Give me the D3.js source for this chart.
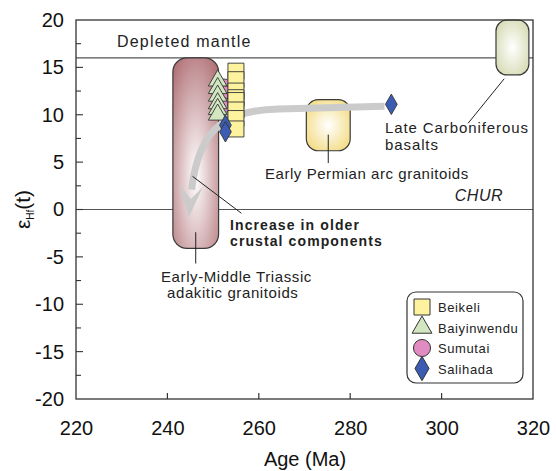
<!DOCTYPE html>
<html><head><meta charset="utf-8">
<script src="https://cdn.jsdelivr.net/npm/d3@7"></script>
<style>body{margin:0;background:#fff}text{font-family:"Liberation Sans",Arial,sans-serif}</style>
</head><body>
<svg id="c" width="556" height="471"></svg>
<script>
// ---- data ----
const xTicks = [220, 240, 260, 280, 300, 320];
const yTicks = [-20, -15, -10, -5, 0, 5, 10, 15, 20];
const beikeliAge = [255, 255, 255, 255, 255, 255, 255, 255];
const beikeliHf = [14.6, 13.7, 12.5, 11.8, 11.5, 10.5, 9.6, 8.5];
const baiyinAge = [251, 251, 251, 251, 251, 251];
const baiyinHf = [13.6, 12.8, 12.0, 11.2, 10.6, 10.0];
const sumutaiAge = [252.4, 252.4, 252.4, 252.4];
const sumutaiHf = [13.0, 12.3, 11.6, 11.0];
const salihadaAge = [252.7, 252.7, 289];
const salihadaHf = [8.9, 8.2, 11.1];
const refLines = [{name: "Depleted mantle", value: 16}, {name: "CHUR", value: 0}];
// fields: [age min, age max, eHf min, eHf max]
const fieldNames = ["Early-Middle Triassic adakitic granitoids", "Early Permian arc granitoids", "Late Carboniferous basalts"];
const fieldBounds = [[241.2, 251.2, -4.1, 16], [270.4, 280, 6.2, 11.6], [311.9, 319.1, 14.2, 20]];
const legendNames = ["Beikeli", "Baiyinwendu", "Sumutai", "Salihada"];
// trend arrow path (age, eHf)
const trendPts = [[287.5, 10.9], [264.3, 10.6], [253.4, 10.5], [246.9, 8.9], [245.3, 2.1]];
const trendTip = [244.7, -0.8];

const svg = d3.select("#c");
const x = d3.scaleLinear().domain([220, 320]).range([76, 533]);
const y = d3.scaleLinear().domain([-20, 20]).range([399, 20]);
const defs = svg.append("defs");

function grad(id, edge, cy, r) {
  const g = defs.append("radialGradient").attr("id", id).attr("cx", "50%").attr("cy", cy).attr("r", r);
  g.append("stop").attr("offset", "0%").attr("stop-color", "#ffffff");
  g.append("stop").attr("offset", "100%").attr("stop-color", edge);
}
grad("gTri", "#b27479", "62%", "72%");
grad("gPer", "#f2d97a", "50%", "65%");
grad("gCar", "#d3d8ae", "50%", "65%");
const fieldFill = ["url(#gTri)", "url(#gPer)", "url(#gCar)"];
const fieldR = [14, 12, 11];

// reference lines
svg.selectAll(".ref").data(refLines).enter().append("line")
  .attr("x1", x(220)).attr("x2", x(320))
  .attr("y1", d => y(d.value)).attr("y2", d => y(d.value))
  .attr("stroke", "#555").attr("stroke-width", 1.1);

// fields
svg.selectAll(".field").data(fieldBounds).enter().append("rect")
  .attr("x", d => x(d[0])).attr("y", d => y(d[3]))
  .attr("width", d => x(d[1]) - x(d[0])).attr("height", d => y(d[2]) - y(d[3]))
  .attr("rx", (d, i) => fieldR[i]).attr("ry", (d, i) => fieldR[i])
  .attr("fill", (d, i) => fieldFill[i]).attr("stroke", "#3a3a3a").attr("stroke-width", 1.2);

// trend arrow
const p = trendPts.map(d => [x(d[0]), y(d[1])]);
svg.append("path")
  .attr("d", `M${p[0]}L${p[1]}C${p[2]} ${p[3]} ${p[4]}`)
  .attr("fill", "none").attr("stroke", "#cbcbcb").attr("stroke-width", 7);
const tip = [x(trendTip[0]), y(trendTip[1])];
svg.append("path")
  .attr("d", `M${tip}L${tip[0]+14},${tip[1]-30}L${tip[0]+2},${tip[1]-18}L${tip[0]-10},${tip[1]-33}Z`)
  .attr("fill", "#cbcbcb");

// leader lines
function leader(a1, v1, a2, v2) {
  svg.append("line").attr("x1", x(a1)).attr("y1", y(v1)).attr("x2", x(a2)).attr("y2", y(v2))
    .attr("stroke", "#222").attr("stroke-width", 1);
}
leader(246.2, -2.4, 246.2, -5.7);
leader(275.2, 7.9, 275.2, 4.9);
leader(313.7, 13.8, 305.8, 9.1);
leader(245.5, 3.5, 256.2, -0.4);

// symbols
const sq = d3.symbol().type(d3.symbolSquare).size(256);
const tri = d3.symbol().type(d3.symbolTriangle).size(150);
const cir = d3.symbol().type(d3.symbolCircle).size(170);
const dia = d3.symbol().type(d3.symbolDiamond).size(120);
const styles = [
  {sym: sq, fill: "#fdf39e"},
  {sym: tri, fill: "#d3e6c2"},
  {sym: cir, fill: "#e08cc0"},
  {sym: dia, fill: "#3c5cb4"}
];
function plotSeries(ages, vals, st) {
  svg.append("g").selectAll("path").data(ages).enter().append("path")
    .attr("transform", (d, i) => `translate(${x(d)},${y(vals[i])})`)
    .attr("d", st.sym()).attr("fill", st.fill).attr("stroke", "#333").attr("stroke-width", 0.9);
}
plotSeries(sumutaiAge, sumutaiHf, styles[2]);
plotSeries(beikeliAge, beikeliHf, styles[0]);
plotSeries(baiyinAge, baiyinHf, styles[1]);
plotSeries(salihadaAge, salihadaHf, styles[3]);

// annotation text
function txt(xp, yp, s, o = {}) {
  const t = svg.append("text").attr("x", xp).attr("y", yp).text(s)
    .attr("font-size", o.size || 15).attr("fill", "#222")
    .attr("letter-spacing", o.ls != null ? o.ls : 1);
  if (o.bold) t.attr("font-weight", "bold");
  if (o.italic) t.attr("font-style", "italic");
  if (o.anchor) t.attr("text-anchor", o.anchor);
  return t;
}
txt(117, 47, refLines[0].name, {size: 16, ls: 1.2});
txt(503, 201, refLines[1].name, {size: 16, italic: true, anchor: "end", ls: 0.5});
txt(385, 133, "Late Carboniferous", {size: 15, ls: 0.9});
txt(385, 150, "basalts", {size: 15, ls: 0.9});
txt(265, 179, "Early Permian arc granitoids", {size: 15, ls: 0.55});
txt(230, 230, "Increase in older", {size: 14, bold: true, ls: 1.1});
txt(230, 246, "crustal components", {size: 14, bold: true, ls: 1.1});
txt(161, 282, "Early-Middle Triassic", {size: 15, ls: 0.6});
txt(167, 298, "adakitic granitoids", {size: 15, ls: 0.6});

// frame
svg.append("rect").attr("x", x(220)).attr("y", y(20)).attr("width", x(320) - x(220)).attr("height", y(-20) - y(20))
  .attr("fill", "none").attr("stroke", "#333").attr("stroke-width", 1.3);

// axes
const xAxis = d3.axisBottom(x).tickValues(xTicks).tickSize(0).tickPadding(22).tickFormat(d => String(d));
const gx = svg.append("g").attr("transform", `translate(0,${y(-20)})`).call(xAxis);
gx.select(".domain").remove();
gx.selectAll("text").attr("font-size", 20).attr("fill", "#111").attr("font-family", "Liberation Sans, Arial, sans-serif");
svg.append("g").selectAll("line").data(xTicks.slice(1, -1)).enter().append("line")
  .attr("x1", d => x(d)).attr("x2", d => x(d)).attr("y1", y(-20)).attr("y2", y(-20) - 6)
  .attr("stroke", "#333").attr("stroke-width", 1.2);

const yAxis = d3.axisLeft(y).tickValues(yTicks).tickSize(0).tickPadding(12).tickFormat(d => String(d));
const gy = svg.append("g").attr("transform", `translate(${x(220)},0)`).call(yAxis);
gy.select(".domain").remove();
gy.selectAll("text").attr("font-size", 20).attr("fill", "#111").attr("font-family", "Liberation Sans, Arial, sans-serif");
const minor = d3.range(-17.5, 20, 5);
svg.append("g").selectAll("line").data(yTicks.slice(1, -1).concat(minor)).enter().append("line")
  .attr("x1", x(220)).attr("x2", d => x(220) + (d % 5 === 0 ? 7 : 5))
  .attr("y1", d => y(d)).attr("y2", d => y(d))
  .attr("stroke", "#333").attr("stroke-width", 1.1);

svg.append("text").attr("x", 305).attr("y", 466).attr("text-anchor", "middle")
  .attr("font-size", 20).attr("fill", "#111").text("Age (Ma)");
const yl = svg.append("text").attr("transform", `translate(30,${(y(-20)+y(20))/2}) rotate(-90)`)
  .attr("text-anchor", "middle").attr("font-size", 21).attr("fill", "#111");
yl.append("tspan").text("ε");
yl.append("tspan").attr("font-size", 10).attr("dy", 4).text("Hf");
yl.append("tspan").attr("dy", -4).text("(t)");

// legend
const lg = svg.append("g").attr("transform", "translate(407,292)");
lg.append("rect").attr("width", 116).attr("height", 91).attr("rx", 9).attr("fill", "#fff")
  .attr("stroke", "#333").attr("stroke-width", 1.2);
const lsyms = [d3.symbol().type(d3.symbolSquare).size(256), d3.symbol().type(d3.symbolTriangle).size(170),
  d3.symbol().type(d3.symbolCircle).size(230), d3.symbol().type(d3.symbolDiamond).size(170)];
const li = lg.selectAll(".li").data(legendNames).enter().append("g")
  .attr("transform", (d, i) => `translate(15,${15 + i * 20.5})`);
li.append("path").attr("d", (d, i) => lsyms[i]()).attr("fill", (d, i) => styles[i].fill)
  .attr("stroke", "#333").attr("stroke-width", 1);
li.append("text").attr("x", 16).attr("y", 5).attr("font-size", 13).attr("letter-spacing", 0.6)
  .attr("fill", "#222").text(d => d);
</script>
</body></html>
